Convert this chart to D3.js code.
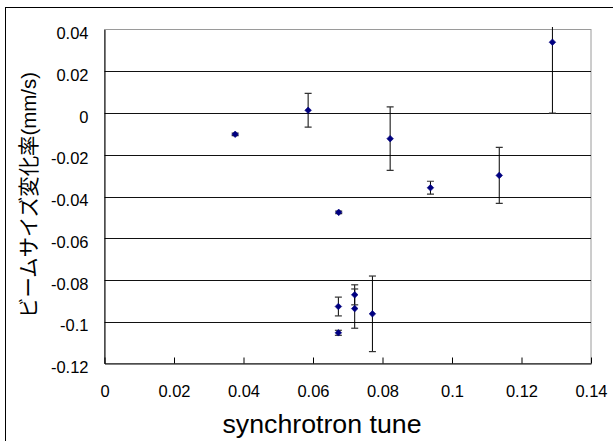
<!DOCTYPE html>
<html><head><meta charset="utf-8">
<script src="https://cdn.jsdelivr.net/npm/d3@7"></script>
<style>html,body{margin:0;padding:0;background:#fff;}svg{display:block;}</style>
</head><body>
<script>
const tuneX = [0.0376, 0.0586, 0.0674, 0.0822, 0.0938, 0.1136, 0.1289, 0.0673, 0.0673, 0.0720, 0.0720, 0.0771];
const rateY = [-0.0102, 0.0013, -0.0476, -0.0123, -0.0358, -0.0299, 0.0339, -0.0927, -0.1053, -0.0871, -0.0937, -0.0962];
const errY  = [0.0006, 0.0081, 0.0006, 0.0152, 0.0031, 0.0134, 0.0340, 0.0045, 0.0012, 0.0048, 0.0094, 0.0181];
const xTicks = [0, 0.02, 0.04, 0.06, 0.08, 0.1, 0.12, 0.14];
const yTicks = [0.04, 0.02, 0, -0.02, -0.04, -0.06, -0.08, -0.1, -0.12];
const xTitle = "synchrotron tune";
const yTitle = "ビームサイズ変化率(mm/s)";

const W = 613, H = 441;
const L = 104.5, R = 591, T = 29.5, B = 363.5;
const x = d3.scaleLinear().domain([0, 0.14]).range([L, R]);
const y = d3.scaleLinear().domain([-0.12, 0.04]).range([B, T]);

const svg = d3.select("body").append("svg").attr("width", W).attr("height", H);
svg.append("rect").attr("width", W).attr("height", H).attr("fill", "#fff");
// outer chart frame
svg.append("rect").attr("x", 5.5).attr("y", 7.5).attr("width", W).attr("height", H)
  .attr("fill", "none").attr("stroke", "#000").attr("stroke-width", 1);

// plot border (gray)
svg.append("rect").attr("x", L).attr("y", T).attr("width", R - L).attr("height", B - T)
  .attr("fill", "none").attr("stroke", "#9a9a9a").attr("stroke-width", 1);

// gridlines
svg.append("g").selectAll("line").data(yTicks.filter(v => v < 0.04 && v > -0.12)).join("line")
  .attr("x1", L).attr("x2", R).attr("y1", d => Math.round(y(d)) + 0.5).attr("y2", d => Math.round(y(d)) + 0.5)
  .attr("stroke", "#111").attr("stroke-width", 1);

const FONT = "Liberation Sans, Arial, sans-serif";
// axes
const xAxis = d3.axisBottom(x).tickValues(xTicks).tickSizeInner(-6).tickSizeOuter(0).tickFormat(d => String(+d.toFixed(2)));
const gx = svg.append("g").attr("transform", `translate(0,${B})`).call(xAxis);
gx.select(".domain").attr("stroke", "#000");
gx.selectAll(".tick line").attr("stroke", "#000");
gx.selectAll(".tick text").attr("font-family", FONT).attr("font-size", 16.5)
  .attr("fill", "#000").attr("y", 0).attr("dy", 33).attr("text-anchor", "middle");

const yAxis = d3.axisLeft(y).tickValues(yTicks).tickSize(0).tickFormat(d => String(+d.toFixed(2)));
const gy = svg.append("g").attr("transform", `translate(${L},0)`).call(yAxis);
gy.select(".domain").attr("stroke", "#000");
gy.selectAll(".tick text").attr("font-family", FONT).attr("font-size", 16.5)
  .attr("fill", "#000").attr("x", -16).attr("dy", "0.55em");

// clip for error bars
svg.append("clipPath").attr("id", "clip").append("rect")
  .attr("x", L - 10).attr("y", T - 2.5).attr("width", R - L + 20).attr("height", B - T + 10);

const data = tuneX.map((v, i) => ({x: v, y: rateY[i], e: errY[i]}));
const eb = svg.append("g").attr("clip-path", "url(#clip)");
eb.selectAll("line.v").data(data).join("line").attr("class", "v")
  .attr("x1", d => x(d.x)).attr("x2", d => x(d.x))
  .attr("y1", d => y(d.y + d.e)).attr("y2", d => y(d.y - d.e))
  .attr("stroke", "#000").attr("stroke-width", 1);
const caps = [];
data.forEach(d => { caps.push({x: d.x, v: d.y + d.e}); caps.push({x: d.x, v: d.y - d.e}); });
eb.selectAll("line.c").data(caps).join("line").attr("class", "c")
  .attr("x1", d => x(d.x) - 3.5).attr("x2", d => x(d.x) + 3.5)
  .attr("y1", d => y(d.v)).attr("y2", d => y(d.v))
  .attr("stroke", "#333").attr("stroke-width", 1.2);

// markers
svg.append("g").selectAll("path").data(data).join("path")
  .attr("transform", d => `translate(${x(d.x)},${y(d.y)})`)
  .attr("d", "M0,-3.3L3.3,0L0,3.3L-3.3,0Z")
  .attr("fill", "#000080").attr("stroke", "#000080").attr("stroke-width", 0.6);

// titles
svg.append("text").attr("x", 322).attr("y", 433).attr("text-anchor", "middle")
  .attr("font-family", FONT).attr("font-size", 25).attr("fill", "#000")
  .attr("textLength", 199).attr("lengthAdjust", "spacingAndGlyphs")
  .text(xTitle);
svg.append("text").attr("transform", `translate(36,195) rotate(-90)`).attr("text-anchor", "middle")
  .attr("font-family", "Liberation Sans, 'Noto Sans CJK JP', sans-serif").attr("font-size", 21).attr("fill", "#000")
  .attr("textLength", 246).attr("lengthAdjust", "spacingAndGlyphs")
  .text(yTitle);
</script>
</body></html>
